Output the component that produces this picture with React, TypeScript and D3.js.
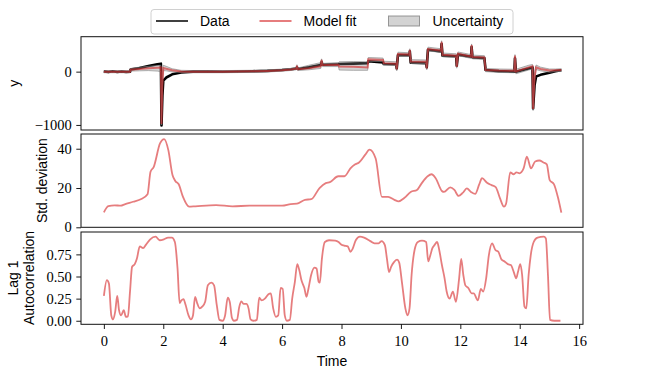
import React, { useRef, useEffect } from 'react';
import * as d3 from 'd3';

// time, data, model fit, lower and upper uncertainty
const signalRows = [
  [0.0, 5, 0, -20, 20],
  [0.15, -8, 0, -20, 20],
  [0.3, 6, 0, -20, 20],
  [0.45, -6, 0, -20, 20],
  [0.6, 4, 0, -20, 20],
  [0.75, -7, 0, -20, 20],
  [0.88, -3, 0, -20, 20],
  [0.9, 40, 35, 10, 60],
  [1.2, 70, 50, 15, 85],
  [1.5, 105, 65, 20, 100],
  [1.8, 140, 75, 10, 115],
  [1.92, 150, 80, 0, 120],
  [1.94, -1010, -980, -1000, -950],
  [1.97, -450, -250, -350, -150],
  [2.0, -170, 70, 20, 120],
  [2.1, -110, 55, 15, 100],
  [2.3, -50, 25, -5, 55],
  [2.6, -15, 5, -15, 25],
  [3.0, 0, 0, -20, 20],
  [3.5, 4, 0, -20, 20],
  [4.0, -3, 0, -20, 20],
  [4.5, 3, 3, -17, 23],
  [5.0, 8, 6, -14, 26],
  [5.5, 15, 14, -6, 34],
  [6.0, 30, 28, 8, 48],
  [6.3, 45, 42, 22, 62],
  [6.48, 60, 55, 35, 75],
  [6.5, 80, 110, 80, 130],
  [6.53, 50, 45, 20, 70],
  [6.9, 80, 65, 35, 120],
  [7.3, 125, 100, 60, 170],
  [7.33, 180, 220, 190, 240],
  [7.36, 130, 125, 95, 155],
  [7.9, 140, 130, 95, 170],
  [7.92, 145, 95, 30, 185],
  [8.4, 150, 90, 25, 190],
  [8.88, 160, 80, 25, 185],
  [8.9, 195, 230, 195, 265],
  [9.4, 175, 220, 190, 255],
  [9.42, 145, 160, 125, 195],
  [9.84, 140, 150, 115, 185],
  [9.86, 60, 40, 15, 70],
  [9.9, 310, 330, 295, 365],
  [10.28, 310, 320, 285, 355],
  [10.3, 380, 410, 380, 430],
  [10.33, 170, 190, 155, 225],
  [10.85, 160, 185, 150, 220],
  [10.87, 80, 60, 35, 90],
  [10.91, 410, 425, 390, 460],
  [11.35, 380, 395, 360, 430],
  [11.37, 520, 560, 530, 580],
  [11.4, 300, 315, 280, 350],
  [11.86, 290, 300, 265, 335],
  [11.88, 110, 90, 65, 120],
  [11.92, 320, 335, 300, 370],
  [12.36, 280, 285, 250, 320],
  [12.38, 460, 500, 470, 520],
  [12.41, 265, 275, 240, 310],
  [12.81, 255, 265, 230, 300],
  [12.85, 30, 30, 0, 60],
  [13.3, 10, 20, -15, 50],
  [13.82, 0, 15, -20, 45],
  [13.84, 250, 300, 270, 320],
  [13.87, 0, 5, -40, 45],
  [14.3, 60, 80, 30, 120],
  [14.43, 80, 100, 50, 135],
  [14.45, -690, -700, -730, -660],
  [14.5, -250, -100, -200, 0],
  [14.55, -90, 80, 40, 125],
  [14.7, -60, 50, 15, 85],
  [15.0, -20, 20, -10, 50],
  [15.2, 10, 25, 0, 50],
  [15.4, 25, 30, 5, 55],
];

const stdRows = [
  [0, 7.6], [0.15, 10.8], [0.36, 11.2], [0.57, 11.0], [0.7, 11.7], [0.98, 13],
  [1.26, 14.4], [1.47, 16.8], [1.57, 28.3], [1.68, 30.8], [1.89, 42.7], [2.03, 44.9],
  [2.17, 39.3], [2.31, 26.6], [2.41, 23.5], [2.52, 21.9], [2.66, 15.6], [2.87, 10.5],
  [3.08, 10.7], [3.78, 11.3], [4.33, 10.7], [4.9, 11], [5.45, 11], [6.0, 11],
  [6.29, 11.8], [6.5, 12], [6.77, 14], [6.98, 14.3], [7.26, 20], [7.47, 22.5],
  [7.61, 23], [7.89, 26], [8.1, 26], [8.3, 30], [8.45, 32], [8.59, 33],
  [8.8, 37], [8.94, 39.5], [9.15, 35], [9.36, 15.5], [9.57, 15.5], [9.78, 14],
  [9.92, 13.2], [10.12, 15], [10.33, 18], [10.54, 19], [10.68, 22], [10.9, 26],
  [11.03, 27], [11.17, 25], [11.38, 18.5], [11.45, 18], [11.66, 20.3], [11.8, 19],
  [11.94, 16], [12.08, 17.5], [12.22, 19.8], [12.36, 18], [12.5, 17], [12.64, 22],
  [12.73, 25], [12.91, 22.5], [13.05, 21.5], [13.19, 20.5], [13.33, 15], [13.47, 10.5],
  [13.54, 12], [13.68, 28], [13.79, 27], [13.89, 28], [13.99, 27.5], [14.13, 30],
  [14.24, 36], [14.38, 30], [14.52, 33.5], [14.66, 34], [14.8, 33], [14.91, 32],
  [15.01, 24], [15.15, 22], [15.29, 15], [15.4, 7.5],
];

const acfRows = [
  [0, 0.28], [0.1, 0.46], [0.17, 0.42], [0.25, 0.06], [0.31, 0.015], [0.38, 0.1],
  [0.45, 0.28], [0.51, 0.12], [0.58, 0.06], [0.67, 0.12], [0.74, 0.045], [0.81, 0.05],
  [0.88, 0.33], [0.95, 0.61], [1.04, 0.64], [1.11, 0.7], [1.21, 0.84], [1.32, 0.82],
  [1.42, 0.86], [1.56, 0.92], [1.74, 0.95], [1.88, 0.91], [2.02, 0.92], [2.16, 0.94],
  [2.29, 0.94], [2.39, 0.89], [2.48, 0.59], [2.55, 0.2], [2.61, 0.23], [2.68, 0.245],
  [2.75, 0.18], [2.85, 0.06], [2.93, 0.015], [3.0, 0.06], [3.07, 0.27], [3.14, 0.2],
  [3.23, 0.14], [3.31, 0.16], [3.41, 0.215], [3.5, 0.4], [3.62, 0.43], [3.71, 0.4],
  [3.8, 0.18], [3.89, 0.01], [4.0, 0], [4.08, 0.06], [4.17, 0.26], [4.24, 0.21],
  [4.31, 0.035], [4.38, 0], [4.48, 0.01], [4.56, 0.16], [4.63, 0.22], [4.7, 0.19],
  [4.8, 0.19], [4.87, 0.14], [4.94, 0.015], [5.03, 0], [5.15, 0.01], [5.23, 0.26],
  [5.31, 0.23], [5.42, 0.25], [5.54, 0.3], [5.62, 0.31], [5.7, 0.14], [5.79, 0.045],
  [5.87, 0.06], [5.95, 0.37], [6.02, 0.36], [6.09, 0.06], [6.16, 0], [6.26, 0.01],
  [6.34, 0.25], [6.43, 0.44], [6.51, 0.64], [6.58, 0.57], [6.65, 0.46], [6.75, 0.37],
  [6.82, 0.27], [6.88, 0.35], [6.98, 0.52], [7.09, 0.6], [7.16, 0.59], [7.23, 0.44],
  [7.27, 0.43], [7.34, 0.7], [7.44, 0.89], [7.58, 0.91], [7.79, 0.905], [7.9, 0.89],
  [8.0, 0.86], [8.09, 0.85], [8.21, 0.84], [8.3, 0.78], [8.37, 0.81], [8.48, 0.91],
  [8.62, 0.95], [8.76, 0.94], [8.97, 0.9], [9.11, 0.875], [9.25, 0.875], [9.35, 0.9],
  [9.46, 0.855], [9.53, 0.7], [9.6, 0.55], [9.67, 0.61], [9.76, 0.66], [9.87, 0.69],
  [9.94, 0.66], [10.04, 0.42], [10.15, 0.14], [10.22, 0.06], [10.29, 0.14], [10.36, 0.52],
  [10.46, 0.8], [10.57, 0.89], [10.71, 0.905], [10.85, 0.89], [10.92, 0.67], [10.99, 0.74],
  [11.06, 0.82], [11.13, 0.855], [11.22, 0.89], [11.29, 0.8], [11.38, 0.63], [11.47, 0.48],
  [11.54, 0.33], [11.64, 0.25], [11.75, 0.33], [11.85, 0.215], [11.96, 0.48], [12.03, 0.7],
  [12.1, 0.52], [12.17, 0.4], [12.27, 0.37], [12.38, 0.31], [12.45, 0.31], [12.59, 0.23],
  [12.69, 0.36], [12.77, 0.33], [12.87, 0.48], [12.96, 0.74], [13.07, 0.875], [13.18, 0.8],
  [13.28, 0.78], [13.39, 0.69], [13.49, 0.67], [13.6, 0.64], [13.7, 0.63], [13.8, 0.55],
  [13.88, 0.48], [13.94, 0.55], [14.02, 0.64], [14.08, 0.52], [14.16, 0.16], [14.22, 0.14],
  [14.3, 0.52], [14.37, 0.74], [14.47, 0.89], [14.6, 0.94], [14.81, 0.95], [14.88, 0.93],
  [14.95, 0.52], [15.02, 0.01], [15.16, 0], [15.37, 0],
];

const xTicks = [0, 2, 4, 6, 8, 10, 12, 14, 16];
const signalTicks = [-1000, 0];
const stdTicks = [0, 20, 40];
const acfTicks = [0, 0.25, 0.5, 0.75];
const legendLabels = ['Data', 'Model fit', 'Uncertainty'];

const RED = '#d62728';
const SERIF = '"Liberation Serif", "DejaVu Serif", serif';
const SANS = '"Liberation Sans", Arial, sans-serif';

const App = () => {
  const svgRef = useRef(null);

  useEffect(() => {
    const svg = d3.select(svgRef.current);
    svg.selectAll('*').remove();

    const left = 81;
    const right = 583;
    const x = d3.scaleLinear().domain([-0.77, 16.13]).range([left, right]);

    const panels = [
      { top: 36.7, bottom: 130, domain: [-1095, 656], ticks: signalTicks,
        fmt: (d) => (d < 0 ? '\u2212' + Math.abs(d) : String(d)) },
      { top: 134, bottom: 227.3, domain: [0, 47.5], ticks: stdTicks, fmt: (d) => String(d) },
      { top: 232, bottom: 324.3, domain: [-0.04, 1.003], ticks: acfTicks, fmt: d3.format('.2f') },
    ];
    const ys = panels.map((p) => d3.scaleLinear().domain(p.domain).range([p.bottom, p.top]));

    // top panel: data, uncertainty band, model fit
    const y0 = ys[0];
    svg.append('path')
      .attr('d', d3.line().x((d) => x(d[0])).y((d) => y0(d[1]))(signalRows))
      .attr('fill', 'none')
      .attr('stroke', '#000')
      .attr('stroke-width', 2.6)
      .attr('stroke-linejoin', 'round');

    svg.append('path')
      .attr('d', d3.area().x((d) => x(d[0])).y0((d) => y0(d[3])).y1((d) => y0(d[4]))(signalRows))
      .attr('fill', '#808080')
      .attr('fill-opacity', 0.35)
      .attr('stroke', '#808080')
      .attr('stroke-opacity', 0.6)
      .attr('stroke-width', 1);

    svg.append('path')
      .attr('d', d3.line().x((d) => x(d[0])).y((d) => y0(d[2]))(signalRows))
      .attr('fill', 'none')
      .attr('stroke', RED)
      .attr('stroke-opacity', 0.6)
      .attr('stroke-width', 2);

    // std deviation and autocorrelation
    [[stdRows, ys[1]], [acfRows, ys[2]]].forEach(([rows, y]) => {
      svg.append('path')
        .attr('d', d3.line().curve(d3.curveMonotoneX).x((d) => x(d[0])).y((d) => y(d[1]))(rows))
        .attr('fill', 'none')
        .attr('stroke', RED)
        .attr('stroke-opacity', 0.6)
        .attr('stroke-width', 1.8);
    });

    // axes and frames
    panels.forEach((p, i) => {
      const g = svg.append('g')
        .attr('transform', `translate(${left},0)`)
        .call(d3.axisLeft(ys[i]).tickValues(p.ticks).tickSize(4.7).tickPadding(4.5).tickFormat(p.fmt));
      g.select('.domain').remove();
      g.attr('font-family', SERIF).attr('font-size', 14.5);
      g.selectAll('line').attr('stroke', '#000').attr('stroke-width', 0.9);

      svg.append('rect')
        .attr('x', left)
        .attr('y', p.top)
        .attr('width', right - left)
        .attr('height', p.bottom - p.top)
        .attr('fill', 'none')
        .attr('stroke', '#111')
        .attr('stroke-width', 1);
    });

    const xg = svg.append('g')
      .attr('transform', `translate(0,${panels[2].bottom})`)
      .call(d3.axisBottom(x).tickValues(xTicks).tickSize(4.7).tickPadding(6.5));
    xg.select('.domain').remove();
    xg.attr('font-family', SERIF).attr('font-size', 14.5);
    xg.selectAll('line').attr('stroke', '#000').attr('stroke-width', 0.9);

    // axis labels
    const label = (text, lx, ly, rotate) => {
      svg.append('text')
        .attr('transform', `translate(${lx},${ly})${rotate ? ' rotate(-90)' : ''}`)
        .attr('text-anchor', 'middle')
        .attr('font-family', SANS)
        .attr('font-size', 14)
        .text(text);
    };
    label('y', 19, 83.3, true);
    label('Std. deviation', 47, 180.7, true);
    label('Lag 1', 18, 278, true);
    label('Autocorrelation', 34, 278, true);
    label('Time', (left + right) / 2, 366, false);

    // legend
    const legend = svg.append('g');
    legend.append('rect')
      .attr('x', 151)
      .attr('y', 9.5)
      .attr('width', 362)
      .attr('height', 24.5)
      .attr('rx', 3)
      .attr('fill', '#fff')
      .attr('stroke', '#d0d0d0');

    const handleX = [156, 259.5, 388.5];
    legendLabels.forEach((name, i) => {
      const hx = handleX[i];
      if (i === 0) {
        legend.append('line').attr('x1', hx).attr('x2', hx + 32).attr('y1', 21).attr('y2', 21)
          .attr('stroke', '#000').attr('stroke-width', 1.5);
      } else if (i === 1) {
        legend.append('line').attr('x1', hx).attr('x2', hx + 32).attr('y1', 21).attr('y2', 21)
          .attr('stroke', RED).attr('stroke-opacity', 0.6).attr('stroke-width', 2);
      } else {
        legend.append('rect').attr('x', hx).attr('y', 16).attr('width', 31).attr('height', 10)
          .attr('fill', '#808080').attr('fill-opacity', 0.35)
          .attr('stroke', '#808080').attr('stroke-opacity', 0.8);
      }
      legend.append('text')
        .attr('x', hx + 44)
        .attr('y', 26)
        .attr('font-family', SANS)
        .attr('font-size', 14)
        .text(name);
    });
  }, []);

  return (
    <div style={{ position: 'absolute', left: 0, top: 0 }}>
      <svg ref={svgRef} width={648} height={378} style={{ display: 'block', background: '#fff' }}></svg>
    </div>
  );
};

export default App;
